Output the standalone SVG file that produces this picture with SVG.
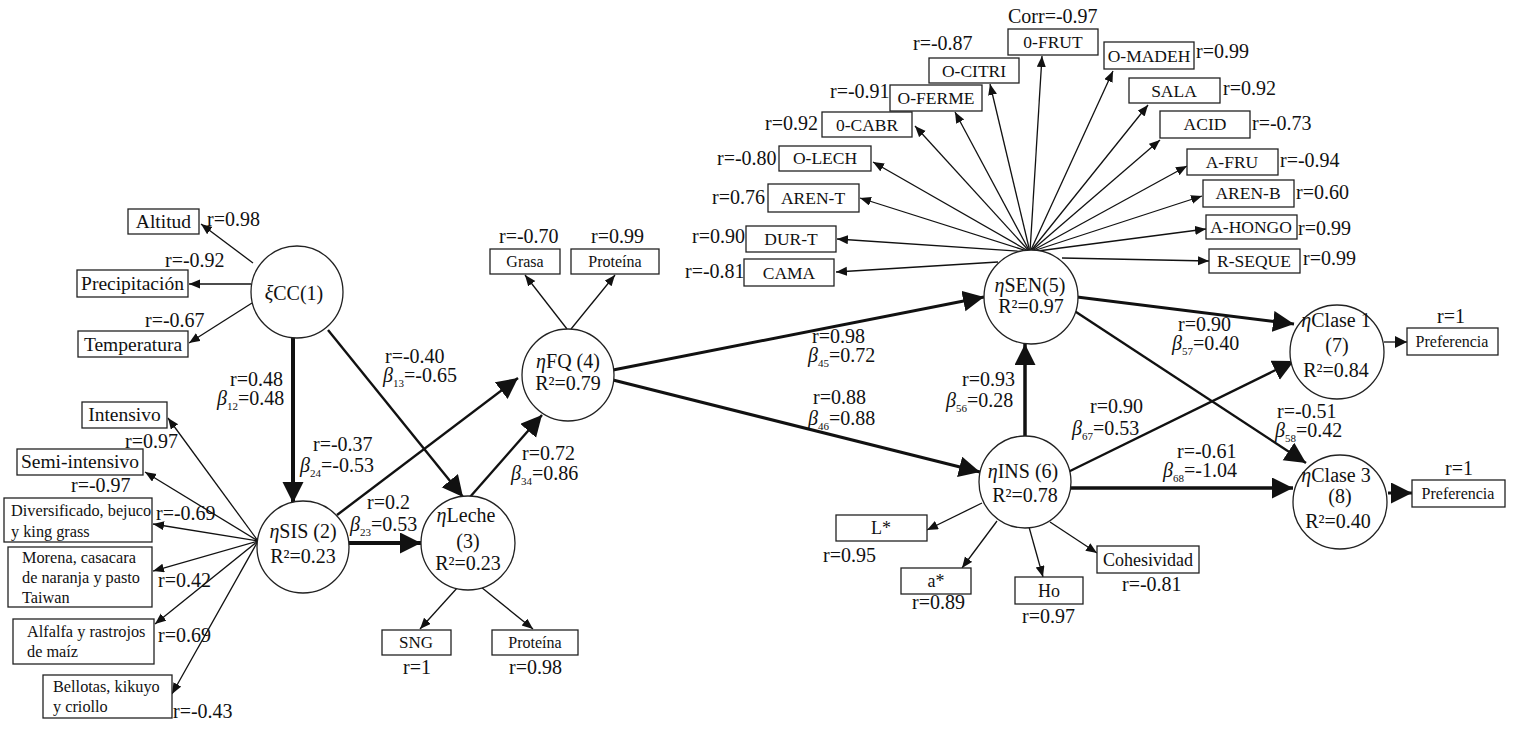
<svg xmlns="http://www.w3.org/2000/svg" width="1517" height="735" viewBox="0 0 1517 735">
<style>
text{font-family:"Liberation Serif","Times New Roman",serif;fill:#111}
.lbl{font-size:20px}
.sub{font-size:11px}
.it{font-style:italic}
.box rect{fill:#fff;stroke:#222;stroke-width:1.3}
.bt{font-size:19.5px;text-anchor:middle}
.bm{font-size:16.3px}
.bs{font-size:16px;text-anchor:middle}
.sen{font-size:17.5px;text-anchor:middle}
.node circle{fill:#fff;stroke:#222;stroke-width:1.3}
.nt{font-size:20px;text-anchor:middle}
.thin{stroke:#111;stroke-width:1.3;fill:none;marker-end:url(#ah)}
.med{stroke:#111;stroke-width:2.4;fill:none;marker-end:url(#big)}
.hvy{stroke:#111;stroke-width:3.5;fill:none;marker-end:url(#big)}
</style>
<defs>
<marker id="ah" markerUnits="userSpaceOnUse" markerWidth="12" markerHeight="10" refX="11" refY="4.5" orient="auto"><path d="M0,0 L11,4.5 L0,9 z" fill="#111"/></marker>
<marker id="mid" markerUnits="userSpaceOnUse" markerWidth="14" markerHeight="14" refX="12" refY="6" orient="auto"><path d="M0,0 L12,6 L0,12 z" fill="#111"/></marker>
<marker id="big" markerUnits="userSpaceOnUse" markerWidth="22" markerHeight="22" refX="21" refY="10.5" orient="auto"><path d="M0,0 L21,10.5 L0,21 z" fill="#111"/></marker>
</defs>
<rect width="1517" height="735" fill="#fff"/>

<g id="connectors">
<line class="thin" x1="253" y1="263" x2="201" y2="224"/>
<line class="thin" x1="251" y1="284" x2="189" y2="284"/>
<line class="thin" x1="252" y1="303" x2="189" y2="343"/>
<line class="thin" x1="258" y1="541" x2="168" y2="418"/>
<line class="thin" x1="258" y1="541" x2="145" y2="472"/>
<line class="thin" x1="258" y1="541" x2="153" y2="524"/>
<line class="thin" x1="258" y1="541" x2="153" y2="571"/>
<line class="thin" x1="258" y1="541" x2="155" y2="624"/>
<line class="thin" x1="258" y1="541" x2="172" y2="694"/>
<line class="hvy" style="stroke-width:4" x1="293" y1="338" x2="293" y2="503"/>
<line class="med" x1="328" y1="330" x2="463" y2="497"/>
<line class="med" x1="337" y1="515" x2="518" y2="378"/>
<line class="hvy" style="stroke-width:4" x1="349" y1="543" x2="421" y2="543"/>
<line class="med" x1="470" y1="497" x2="542" y2="415"/>
<line class="thin" x1="458" y1="587" x2="420" y2="629"/>
<line class="thin" x1="481" y1="587" x2="533" y2="629"/>
<line class="thin" x1="567" y1="329" x2="525" y2="275"/>
<line class="thin" x1="571" y1="329" x2="615" y2="275"/>
<line class="hvy" style="stroke-width:3" x1="613" y1="370" x2="984" y2="297"/>
<line class="hvy" style="stroke-width:3" x1="613" y1="380" x2="980" y2="472"/>
<line class="hvy" x1="1025" y1="436" x2="1025" y2="344"/>
<line class="hvy" style="stroke-width:3" x1="1077" y1="297" x2="1294" y2="324"/>
<line class="med" x1="1073" y1="310" x2="1306" y2="463"/>
<line class="med" x1="1068" y1="472" x2="1294" y2="361"/>
<line class="hvy" x1="1071" y1="488" x2="1293" y2="488"/>
<line style="stroke:#111;stroke-width:1.3;marker-end:url(#mid)" x1="1384" y1="342" x2="1407" y2="342"/>
<line class="hvy" style="stroke-width:3" x1="1388" y1="493" x2="1412" y2="493"/>
<line class="thin" x1="982" y1="503" x2="927" y2="530"/>
<line class="thin" x1="997" y1="521" x2="962" y2="568"/>
<line class="thin" x1="1029" y1="527" x2="1043" y2="577"/>
<line class="thin" x1="1050" y1="522" x2="1097" y2="553"/>
<line class="thin" x1="1030" y1="252" x2="1042" y2="56"/>
<line class="thin" x1="1030" y1="252" x2="990" y2="84"/>
<line class="thin" x1="1030" y1="252" x2="955" y2="112"/>
<line class="thin" x1="1030" y1="252" x2="915" y2="126"/>
<line class="thin" x1="1030" y1="252" x2="873" y2="162"/>
<line class="thin" x1="1030" y1="252" x2="860" y2="198"/>
<line class="thin" x1="1030" y1="252" x2="837" y2="239"/>
<line class="thin" x1="998" y1="262" x2="836" y2="272"/>
<line class="thin" x1="1030" y1="252" x2="1113" y2="71"/>
<line class="thin" x1="1030" y1="252" x2="1148" y2="105"/>
<line class="thin" x1="1030" y1="252" x2="1160" y2="140"/>
<line class="thin" x1="1030" y1="252" x2="1187" y2="166"/>
<line class="thin" x1="1030" y1="252" x2="1202" y2="196"/>
<line class="thin" x1="1030" y1="252" x2="1206" y2="229"/>
<line class="thin" x1="1062" y1="258" x2="1209" y2="261"/>
</g>

<g id="edge-labels" class="lbl">
<text x="207" y="226">r=0.98</text>
<text x="165" y="267">r=-0.92</text>
<text x="145" y="327">r=-0.67</text>
<text x="230" y="386">r=0.48</text>
<text x="217" y="405"><tspan class="it">β</tspan><tspan class="sub" dy="5">12</tspan><tspan dy="-5">=0.48</tspan></text>
<text x="385" y="363">r=-0.40</text>
<text x="383" y="382"><tspan class="it">β</tspan><tspan class="sub" dy="5">13</tspan><tspan dy="-5">=-0.65</tspan></text>
<text x="313" y="451">r=-0.37</text>
<text x="300" y="472"><tspan class="it">β</tspan><tspan class="sub" dy="5">24</tspan><tspan dy="-5">=-0.53</tspan></text>
<text x="367" y="509">r=0.2</text>
<text x="350" y="531"><tspan class="it">β</tspan><tspan class="sub" dy="5">23</tspan><tspan dy="-5">=0.53</tspan></text>
<text x="125" y="448">r=0.97</text>
<text x="71" y="492">r=-0.97</text>
<text x="156" y="520">r=-0.69</text>
<text x="158" y="587">r=0.42</text>
<text x="158" y="642">r=0.69</text>
<text x="173" y="718">r=-0.43</text>
<text x="522" y="460">r=0.72</text>
<text x="511" y="480"><tspan class="it">β</tspan><tspan class="sub" dy="5">34</tspan><tspan dy="-5">=0.86</tspan></text>
<text x="499" y="243">r=-0.70</text>
<text x="591" y="243">r=0.99</text>
<text x="403" y="674">r=1</text>
<text x="509" y="674">r=0.98</text>
<text x="812" y="343">r=0.98</text>
<text x="808" y="362"><tspan class="it">β</tspan><tspan class="sub" dy="5">45</tspan><tspan dy="-5">=0.72</tspan></text>
<text x="813" y="404">r=0.88</text>
<text x="808" y="425"><tspan class="it">β</tspan><tspan class="sub" dy="5">46</tspan><tspan dy="-5">=0.88</tspan></text>
<text x="962" y="386">r=0.93</text>
<text x="946" y="407"><tspan class="it">β</tspan><tspan class="sub" dy="5">56</tspan><tspan dy="-5">=0.28</tspan></text>
<text x="1178" y="331">r=0.90</text>
<text x="1172" y="350"><tspan class="it">β</tspan><tspan class="sub" dy="5">57</tspan><tspan dy="-5">=0.40</tspan></text>
<text x="1090" y="413">r=0.90</text>
<text x="1072" y="435"><tspan class="it">β</tspan><tspan class="sub" dy="5">67</tspan><tspan dy="-5">=0.53</tspan></text>
<text x="1277" y="418">r=-0.51</text>
<text x="1275" y="437"><tspan class="it">β</tspan><tspan class="sub" dy="5">58</tspan><tspan dy="-5">=0.42</tspan></text>
<text x="1177" y="458">r=-0.61</text>
<text x="1163" y="477"><tspan class="it">β</tspan><tspan class="sub" dy="5">68</tspan><tspan dy="-5">=-1.04</tspan></text>
<text x="1437" y="323">r=1</text>
<text x="1445" y="475">r=1</text>
<text x="823" y="562">r=0.95</text>
<text x="912" y="609">r=0.89</text>
<text x="1022" y="623">r=0.97</text>
<text x="1122" y="591">r=-0.81</text>
<text x="1008" y="23">Corr=-0.97</text>
<text x="913" y="50">r=-0.87</text>
<text x="830" y="98">r=-0.91</text>
<text x="765" y="130">r=0.92</text>
<text x="717" y="165">r=-0.80</text>
<text x="712" y="204">r=0.76</text>
<text x="692" y="243">r=0.90</text>
<text x="685" y="278">r=-0.81</text>
<text x="1196" y="58">r=0.99</text>
<text x="1223" y="95">r=0.92</text>
<text x="1252" y="130">r=-0.73</text>
<text x="1280" y="167">r=-0.94</text>
<text x="1296" y="199">r=0.60</text>
<text x="1298" y="235">r=0.99</text>
<text x="1303" y="265">r=0.99</text>
</g>

<g id="CC" class="node"><circle cx="297" cy="292" r="46"/><text class="nt" x="294" y="300"><tspan class="it">ξ</tspan>CC(1)</text></g>
<g id="SIS" class="node"><circle cx="303" cy="547" r="46"/><text class="nt" x="303" y="538"><tspan class="it">η</tspan>SIS (2)</text><text class="nt" x="303" y="563">R²=0.23</text></g>
<g id="Leche" class="node"><circle cx="468" cy="543" r="47"/><text class="nt" x="466" y="522"><tspan class="it">η</tspan>Leche</text><text class="nt" x="468" y="548">(3)</text><text class="nt" x="468" y="570">R²=0.23</text></g>
<g id="FQ" class="node"><circle cx="568" cy="375" r="46"/><text class="nt" x="568" y="368"><tspan class="it">η</tspan>FQ (4)</text><text class="nt" x="568" y="390">R²=0.79</text></g>
<g id="SEN" class="node"><circle cx="1031" cy="297" r="47"/><text class="nt" x="1030" y="292"><tspan class="it">η</tspan>SEN(5)</text><text class="nt" x="1031" y="313">R²=0.97</text></g>
<g id="INS" class="node"><circle cx="1025" cy="482" r="46"/><text class="nt" x="1023" y="478"><tspan class="it">η</tspan>INS (6)</text><text class="nt" x="1025" y="502">R²=0.78</text></g>
<g id="Clase1" class="node"><circle cx="1337" cy="352" r="47"/><text class="nt" x="1336" y="327"><tspan class="it">η</tspan>Clase 1</text><text class="nt" x="1337" y="352">(7)</text><text class="nt" x="1336" y="377">R²=0.84</text></g>
<g id="Clase3" class="node"><circle cx="1340" cy="502" r="47"/><text class="nt" x="1336" y="482"><tspan class="it">η</tspan>Clase 3</text><text class="nt" x="1340" y="503">(8)</text><text class="nt" x="1338" y="528">R²=0.40</text></g>

<g id="Altitud" class="box"><rect x="128" y="209" width="71" height="25"/><text class="bt" x="163.5" y="228">Altitud</text></g>
<g id="Precipitacion" class="box"><rect x="77" y="270" width="111" height="27"/><text class="bt" x="132.5" y="290">Precipitación</text></g>
<g id="Temperatura" class="box"><rect x="78" y="331" width="110" height="26"/><text class="bt" x="133" y="351">Temperatura</text></g>
<g id="Intensivo" class="box"><rect x="82" y="402" width="85" height="26"/><text class="bt" x="124.5" y="421">Intensivo</text></g>
<g id="Semi" class="box"><rect x="17" y="449" width="126" height="26"/><text class="bt" x="80" y="468">Semi-intensivo</text></g>
<g id="Diversificado" class="box"><rect x="4" y="498" width="148" height="44"/><text class="bm" x="11" y="516">Diversificado, bejuco</text><text class="bm" x="11" y="537">y king grass</text></g>
<g id="Morena" class="box"><rect x="8" y="547" width="144" height="60"/><text class="bm" x="22" y="563">Morena, casacara</text><text class="bm" x="22" y="583">de naranja y pasto</text><text class="bm" x="22" y="603">Taiwan</text></g>
<g id="Alfalfa" class="box"><rect x="13" y="619" width="141" height="45"/><text class="bm" x="27" y="637">Alfalfa y rastrojos</text><text class="bm" x="27" y="657">de maíz</text></g>
<g id="Bellotas" class="box"><rect x="43" y="675" width="129" height="43"/><text class="bm" x="53" y="692">Bellotas, kikuyo</text><text class="bm" x="53" y="712">y criollo</text></g>
<g id="Grasa" class="box"><rect x="490" y="249" width="70" height="25"/><text class="bs" x="525" y="267">Grasa</text></g>
<g id="ProteinaFQ" class="box"><rect x="571" y="249" width="88" height="25"/><text class="bs" x="615" y="267">Proteína</text></g>
<g id="SNG" class="box"><rect x="382" y="630" width="69" height="25"/><text class="bs" style="font-size:17px" x="416" y="648">SNG</text></g>
<g id="ProteinaLeche" class="box"><rect x="492" y="630" width="86" height="25"/><text class="bs" x="535" y="648">Proteína</text></g>
<g id="Pref1" class="box"><rect x="1407" y="328" width="91" height="27"/><text class="bs" x="1452" y="347">Preferencia</text></g>
<g id="Pref3" class="box"><rect x="1412" y="480" width="93" height="27"/><text class="bs" x="1458" y="499">Preferencia</text></g>
<g id="Lstar" class="box"><rect x="836" y="515" width="91" height="26"/><text class="sen" style="font-size:18px" x="881" y="534">L*</text></g>
<g id="astar" class="box"><rect x="901" y="568" width="70" height="26"/><text class="sen" style="font-size:18px" x="936" y="587">a*</text></g>
<g id="Ho" class="box"><rect x="1015" y="577" width="68" height="27"/><text class="sen" style="font-size:18px" x="1049" y="597">Ho</text></g>
<g id="Cohesividad" class="box"><rect x="1097" y="546" width="102" height="27"/><text class="sen" style="font-size:18px" x="1148" y="566">Cohesividad</text></g>
<g id="OFRUT" class="box"><rect x="1008" y="29" width="90" height="26"/><text class="sen" x="1053" y="48">0-FRUT</text></g>
<g id="OCITRI" class="box"><rect x="929" y="58" width="90" height="25"/><text class="sen" x="974" y="77">O-CITRI</text></g>
<g id="OFERME" class="box"><rect x="890" y="85" width="92" height="26"/><text class="sen" x="936" y="104">O-FERME</text></g>
<g id="OCABR" class="box"><rect x="822" y="112" width="90" height="25"/><text class="sen" x="867" y="131">0-CABR</text></g>
<g id="OLECH" class="box"><rect x="779" y="146" width="92" height="25"/><text class="sen" x="825" y="164">O-LECH</text></g>
<g id="ARENT" class="box"><rect x="768" y="184" width="91" height="28"/><text class="sen" x="813" y="204">AREN-T</text></g>
<g id="DURT" class="box"><rect x="746" y="226" width="90" height="26"/><text class="sen" x="791" y="245">DUR-T</text></g>
<g id="CAMA" class="box"><rect x="744" y="259" width="90" height="27"/><text class="sen" x="789" y="279">CAMA</text></g>
<g id="OMADEH" class="box"><rect x="1104" y="42" width="90" height="27"/><text class="sen" x="1149" y="62">O-MADEH</text></g>
<g id="SALA" class="box"><rect x="1129" y="78" width="91" height="25"/><text class="sen" x="1174" y="97">SALA</text></g>
<g id="ACID" class="box"><rect x="1160" y="111" width="90" height="27"/><text class="sen" x="1205" y="130">ACID</text></g>
<g id="AFRU" class="box"><rect x="1187" y="149" width="91" height="26"/><text class="sen" x="1232" y="168">A-FRU</text></g>
<g id="ARENB" class="box"><rect x="1203" y="180" width="91" height="27"/><text class="sen" x="1248" y="199">AREN-B</text></g>
<g id="AHONGO" class="box"><rect x="1206" y="215" width="91" height="24"/><text class="sen" x="1251" y="233">A-HONGO</text></g>
<g id="RSEQUE" class="box"><rect x="1209" y="249" width="91" height="24"/><text class="sen" x="1254" y="267">R-SEQUE</text></g>
</svg>
